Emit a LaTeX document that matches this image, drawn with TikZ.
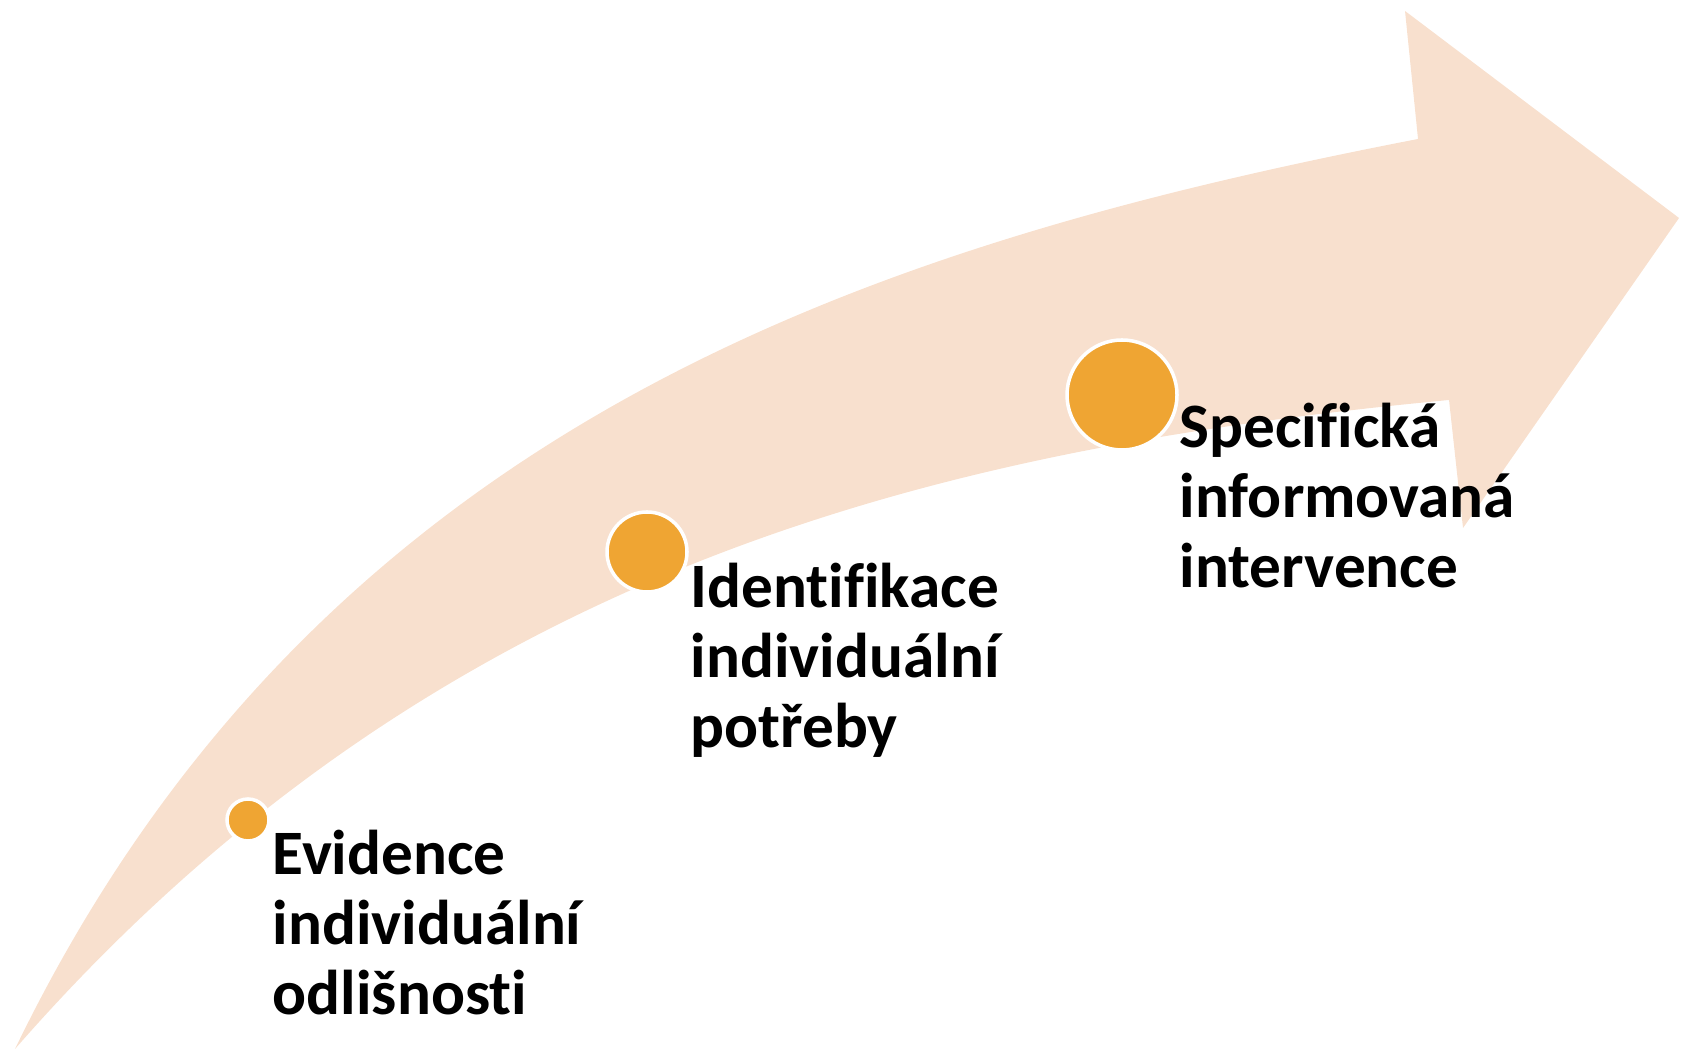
\documentclass[tikz,border=0pt]{standalone}
\usepackage{fontspec}
\setmainfont{Carlito}[Ligatures=NoCommon]
\usepackage{tikz}

\definecolor{arrowpeach}{RGB}{248,224,206}
\definecolor{dotorange}{RGB}{239,165,51}

\begin{document}
\begin{tikzpicture}[dot/.style={circle, draw=white, line width=1pt, fill=dotorange, inner sep=0pt},
    steptext/.style={anchor=north west, align=left, inner sep=0pt, font=\fontsize{18}{20}\selectfont\bfseries}]

    \useasboundingbox (0,0) rectangle (16.84,10.49);

    % the big curved arrow
    \fill[arrowpeach] (0.15,0)
        .. controls (3.2,6.3) and (8.79,8.055) .. (14.18,9.10)
        -- (14.05,10.38) -- (16.79,8.31) -- (14.63,5.21) -- (14.49,6.49)
        .. controls (9.515,6.015) and (4.42,4.89) .. (0.15,0)
        -- cycle;

    \node[dot, minimum size=0.42cm] (d1) at (2.48,2.29) {};

    \node[dot, minimum size=0.80cm] (d2) at (6.47,4.97) {};

    \node[dot, minimum size=1.10cm] (d3) at (11.22,6.54) {};

    \node[steptext] (t1) at (2.72,2.20) {Evidence\\individuální\\odlišnosti};

    \node[steptext] (t2) at (6.90,4.87) {Identifikace\\individuální\\potřeby};

    \node[steptext] (t3) at (11.79,6.47) {Specifická\\informovaná\\intervence};

\end{tikzpicture}
\end{document}
